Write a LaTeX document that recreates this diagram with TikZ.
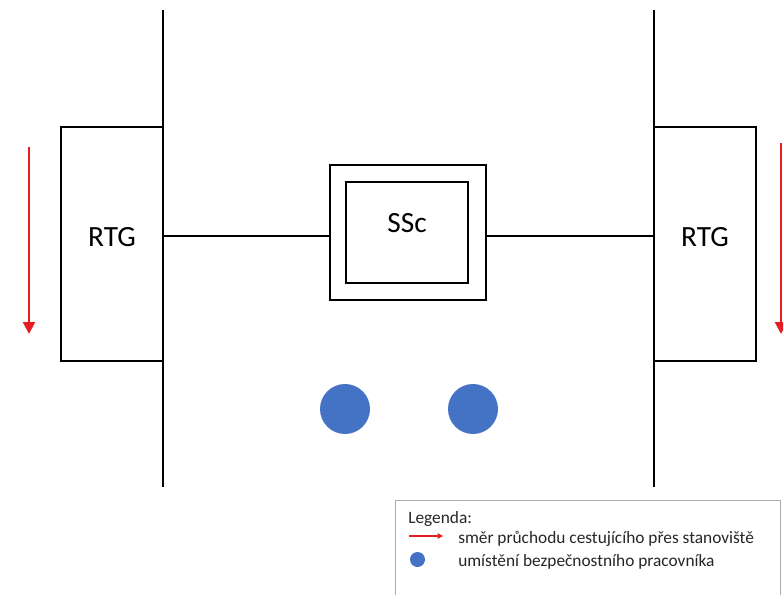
\documentclass[tikz,border=0pt]{standalone}
\usepackage{fontspec}
\setmainfont{Carlito}
\usetikzlibrary{positioning,arrows.meta}
\definecolor{flowred}{RGB}{230,30,36}
\definecolor{guardblue}{RGB}{68,114,196}
\definecolor{legframe}{RGB}{170,170,170}
\tikzset{
  track/.style={draw=black, line width=1.6pt},
  rtgbox/.style={draw=black, fill=white, line width=1.6pt, minimum width=76.5pt,
                 minimum height=175.5pt, font=\fontsize{22}{26}\selectfont,
                 text depth=11pt, align=center},
  sscouter/.style={draw=black, fill=white, line width=1.6pt, minimum width=117pt,
                   minimum height=101.25pt},
  sscinner/.style={draw=black, line width=2.2pt, minimum width=91.5pt,
                   minimum height=75.75pt, font=\fontsize{22}{26}\selectfont, text depth=15pt},
  guard/.style={circle, fill=guardblue, draw=none, minimum size=37.5pt, inner sep=0pt},
  flowarrow/.style={-{Triangle[width=9pt,length=9pt]}, flowred, line width=1.5pt},
  legbox/.style={draw=legframe, line width=0.8pt, fill=white, minimum width=288.75pt,
                 minimum height=90pt, inner sep=0pt},
  legtext/.style={font=\fontsize{13}{15}\selectfont, text=black!85, inner sep=0pt}
}
\begin{document}
\begin{tikzpicture}[x=0.75pt, y=-0.75pt]
  \useasboundingbox (0,0) rectangle (783,594);

  % tracks
  \coordinate (trackLtop) at (163,10);
  \coordinate (trackLbot) at (163,487);
  \coordinate (trackRtop) at (654,10);
  \coordinate (trackRbot) at (654,487);
  \draw[track] (trackLtop) -- (trackLbot);
  \draw[track] (trackRtop) -- (trackRbot);

  % gates and security station
  \node[rtgbox] (rtgL) at (112,244) {RTG};
  \node[rtgbox] (rtgR) at (705,244) {RTG};
  \node[sscouter] (sscOut) at (408,232.5) {};
  \node[sscinner] (ssc) at (407,232.5) {SSc};
  \draw[track] ([yshift=-2.6pt]rtgL.east |- sscOut.west) -- ([yshift=-2.6pt]sscOut.west);
  \draw[track] ([yshift=-2.6pt]sscOut.east) -- ([yshift=-2.6pt]rtgR.west |- sscOut.east);

  % passenger flow
  \coordinate (flowLtop) at (29,147);
  \coordinate (flowLbot) at (29,334);
  \coordinate (flowRtop) at (781,143);
  \coordinate (flowRbot) at (781,334);
  \draw[flowarrow] (flowLtop) -- (flowLbot);
  \draw[flowarrow] (flowRtop) -- (flowRbot);

  % security staff
  \node[guard] (guardA) at (345,409) {};
  \node[guard] (guardB) at (473,409) {};

  % legend
  \node[legbox, anchor=north west] (legend) at (395,500) {};
  \node[legtext, anchor=west] (legTitle) at (408,519) {Legenda:};
  \coordinate (legArrA) at (409,536);
  \coordinate (legArrB) at (443,536);
  \draw[-{Triangle[width=4pt,length=4pt]}, flowred, line width=0.8pt] (legArrA) -- (legArrB);
  \node[legtext, anchor=west] (legFlow) at (458,539) {směr průchodu cestujícího přes stanoviště};
  \node[guard, minimum size=11.25pt] (legDot) at (417.5,559.5) {};
  \node[legtext, anchor=west] (legGuard) at (458,562) {umístění bezpečnostního pracovníka};
\end{tikzpicture}
\end{document}
